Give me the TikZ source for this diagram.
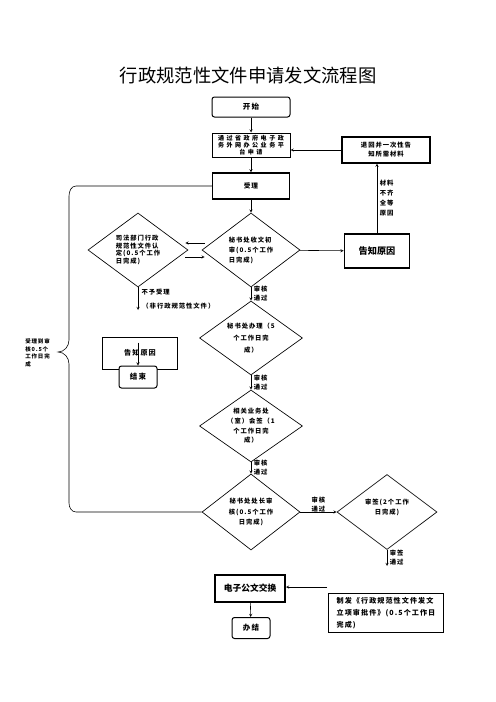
\documentclass[tikz,border=0pt]{standalone}
\usepackage{fontspec}
\usepackage{tikz}
\usetikzlibrary{shapes,positioning}
\setmainfont{Noto Sans CJK SC}
\newfontfamily\cjk{Noto Sans CJK SC}
\newfontfamily\cjkwide[LetterSpace=15]{Noto Sans CJK SC}
\newfontfamily\cjkwider[LetterSpace=40]{Noto Sans CJK SC}
\newcommand{\smtext}[1]{\cjkwide\bfseries\fontsize{7.6}{#1}\selectfont}
\tikzset{box/.style={rectangle,draw,line width=1.2pt,inner sep=0pt},
  rbox/.style={rectangle,rounded corners=3pt,draw,line width=1.2pt,inner sep=0pt,fill=white},
  dia/.style={diamond,draw,line width=0.8pt,aspect=1.35,inner sep=0pt,align=center},
  lbl/.style={inner sep=0pt,align=left,font=\smtext{10.8}}}

\begin{document}
\begin{tikzpicture}[>=stealth,x=1.2pt,y=-1.2pt,line width=0.7pt]
        \useasboundingbox (0,0) rectangle (496,702);
        \node[inner sep=0pt,font=\cjk\fontsize{22}{26}\selectfont] (title) at (248,75) {行政规范性文件申请发文流程图};

        \node[rbox,minimum width=93.6pt,minimum height=24pt,font=\cjkwide\bfseries\fontsize{9}{10}\selectfont] (kaishi) at (251,107) {开始};
        \node[box,minimum width=93.6pt,minimum height=28.8pt,align=center,font=\cjkwider\bfseries\fontsize{7.3}{8.4}\selectfont] (shenqing) at (251,145) {通过省政府电子政\\务外网办公业务平\\台申请};
        \node[box,line width=1.5pt,minimum width=92.4pt,minimum height=31.2pt,font=\cjkwide\bfseries\fontsize{8}{9}\selectfont] (shouli) at (251,186) {受理};
        \node[box,line width=1.5pt,minimum width=105.6pt,minimum height=31.2pt,align=center,font=\smtext{10.8}] (tuihui) at (386,150) {退回并一次性告\\知所需材料};
        \node[dia,minimum width=117.6pt,minimum height=88.8pt,align=left,font=\smtext{12}] (chushen) at (251,250) {秘书处收文初\\审(0.5个工作\\日完成)};
        \node[dia,minimum width=120pt,minimum height=88.8pt,align=left,font=\smtext{9.3}] (rending) at (138,250) {司法部门行政\\规范性文件认\\定(0.5个工作\\日完成)};
        \node[box,line width=2pt,minimum width=78pt,minimum height=40.8pt,font=\cjk\bfseries\fontsize{11}{13}\selectfont] (gaozhi) at (377,251) {告知原因};
        \node[dia,minimum width=123.6pt,minimum height=88.8pt,font=\smtext{14.4}] (banli) at (251,338) {秘书处办理（5\\个工作日完\\成）};
        \node[dia,minimum width=123.6pt,minimum height=86.4pt,font=\smtext{11.5}] (huiqian) at (251,426) {相关业务处\\（室）会签（1\\个工作日完\\成）};
        \node[dia,minimum width=117.6pt,minimum height=91.2pt,font=\smtext{12.6}] (chuzhang) at (251,512) {秘书处处长审\\核(0.5个工作\\日完成)};
        \node[dia,minimum width=120pt,minimum height=90pt,font=\smtext{12}] (shenqian) at (387,512) {审签(2个工作\\日完成)\\\mbox{}};
        \node[box,minimum width=138pt,minimum height=46.8pt,align=left,font=\cjkwide\bfseries\fontsize{8.5}{14.4}\selectfont] (zhifa) at (386,613) {制发《行政规范性文件发文\\立项审批件》(0.5个工作日\\完成)};
        \node[box,line width=2.4pt,minimum width=84pt,minimum height=32.4pt,font=\cjk\bfseries\fontsize{10.5}{12}\selectfont] (dianzi) at (250,588) {电子公文交换};
        \node[rbox,minimum width=45.6pt,minimum height=25.2pt,font=\cjkwide\bfseries\fontsize{9}{10}\selectfont] (banjie) at (251,628) {办结};
        \node[box,line width=1pt,minimum width=90pt,minimum height=38.4pt,font=\cjkwide\bfseries\fontsize{8.5}{9}\selectfont] (gaozhi2) at (140,353) {告知原因};
        \node[rbox,minimum width=45.6pt,minimum height=26.4pt,font=\cjkwide\bfseries\fontsize{9}{10}\selectfont] (jieshu) at (138,377) {结束};
        \node[lbl,anchor=west,font=\cjkwide\bfseries\fontsize{6.6}{9.3}\selectfont] (qixian) at (25,353) {受理到审\\核0.5个\\工作日完\\成};

        \coordinate (buyu) at (138,310);
        \coordinate (shenqian-end) at (387,566);
        \coordinate (zhifa-in) at (327,587);

        \draw [->] (kaishi) to [] (shenqing);
        \draw [->] (shenqing) to [] (shouli);
        \draw [->] (shouli) to [] (chushen);
        \draw [->] (chushen) to [] (gaozhi);
        \draw [->] (tuihui.west) to [] (tuihui.west -| shenqing.east);
        \draw [->] (gaozhi.north) to [] node[lbl,right=3pt,font=\smtext{12}] (yuanyin) {材料\\不齐\\全等\\原因} (gaozhi.north |- tuihui.south);
        \draw [->] ([shift={(3,-7)}]chushen.west) to [] ([shift={(-3,-7)}]rending.east);
        \draw [->] ([shift={(-3,7)}]rending.east) to [] ([shift={(3,7)}]chushen.west);
        \draw [->] (rending) to [] node[lbl,right=4pt,pos=0.22] (buyu-a) {不予受理} node[lbl,right=5pt,pos=0.83] (buyu-b) {（非行政规范性文件）} (buyu);
        \draw [->] (chushen) to [] node[lbl,right=3pt] (tongguo1) {审核\\通过} (banli);
        \draw [->] (banli) to [] node[lbl,right=3pt] (tongguo2) {审核\\通过} (huiqian);
        \draw [->] (huiqian) to [] node[lbl,right=3pt] (tongguo3) {审核\\通过} (chuzhang);
        \draw [->] (chuzhang) to [] node[lbl,above=0pt] (tongguo4) {审核\\通过} (shenqian);
        \draw [->] (shenqian) to [] node[lbl,right=3pt] (tongguo5) {审签\\通过} (shenqian-end);
        \draw [->] (zhifa-in) to [] (zhifa-in -| dianzi.east);
        \draw [->] (dianzi) to [] (banjie);
        \draw [->] (jieshu.north |- gaozhi2.north) ++(0,6) to [] (jieshu.north);

        \draw (shouli.west) -- (76,186) to [out=180,in=90] (69,196) -- (69,340) to [out=-90,in=0] (58,352) to [out=0,in=90] (69,364) -- (69,503) to [out=-90,in=180] (76,512) -- (chuzhang.west);
    \end{tikzpicture}
\end{document}
